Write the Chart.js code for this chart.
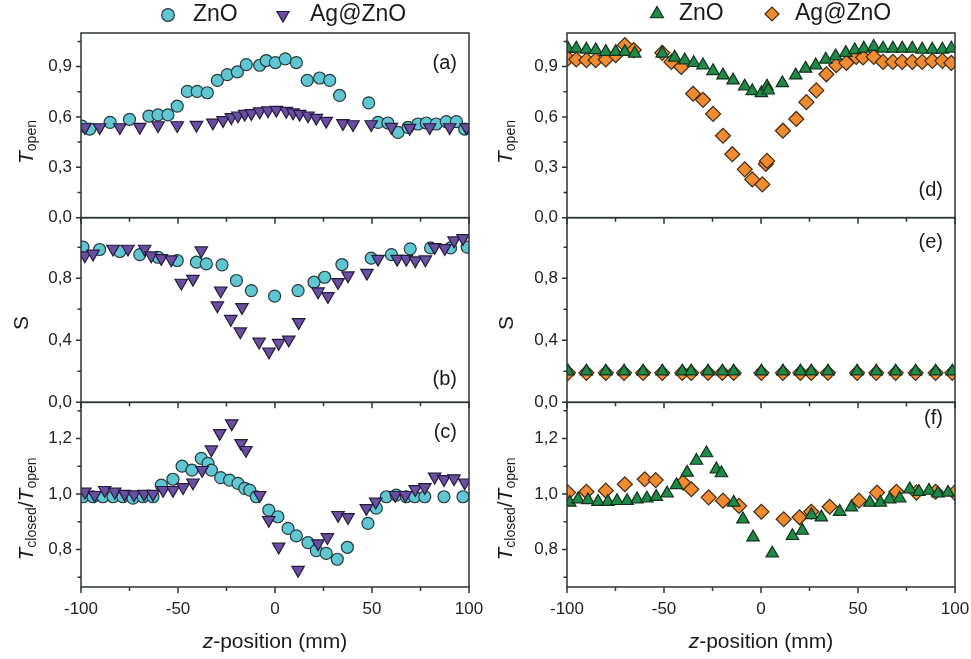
<!DOCTYPE html>
<html>
<head>
<meta charset="utf-8">
<script src="https://cdn.jsdelivr.net/npm/chart.js@4.4.0/dist/chart.umd.min.js"></script>
<style>
    body { margin: 0; background: #fff; font-family: "Liberation Sans", Arial, sans-serif; color: #1a1a1a; }
    #wrap { position: relative; width: 971px; height: 659px; overflow: hidden; }
    canvas { position: absolute; top: 0; }
    .ttl { position: absolute; white-space: nowrap; font-size: 21px; line-height: 1; transform: translate(-50%, -50%) rotate(-90deg); }
    .ttl .sub { font-size: 14px; position: relative; top: 3px; }
    .xt { position: absolute; white-space: nowrap; font-size: 21px; line-height: 1; transform: translate(-50%, -50%); }
</style>
</head>
<body>
<div id="wrap">
    <canvas id="colIzq" width="485" height="659" style="left:0"></canvas>
    <canvas id="colDer" width="486" height="659" style="left:485px"></canvas>

    <div class="ttl" style="left:25px;top:142px"><i>T</i><span class="sub">open</span></div>
    <div class="ttl" style="left:20px;top:323px">S</div>
    <div class="ttl" style="left:25px;top:509px"><i>T</i><span class="sub">closed</span>/<i>T</i><span class="sub">open</span></div>

    <div class="ttl" style="left:504px;top:142px"><i>T</i><span class="sub">open</span></div>
    <div class="ttl" style="left:505px;top:323px">S</div>
    <div class="ttl" style="left:504px;top:509px"><i>T</i><span class="sub">closed</span>/<i>T</i><span class="sub">open</span></div>

    <div class="xt" style="left:275px;top:640px"><i>z</i>-position (mm)</div>
    <div class="xt" style="left:761px;top:640px"><i>z</i>-position (mm)</div>
</div>

<script>
// Ticks de los ejes
const xTicks = [-100, -50, 0, 50, 100];
const xMinor = [-75, -25, 25, 75];
const openTicks = [0, 0.3, 0.6, 0.9];
const openMinor = [0.15, 0.45, 0.75, 1.05];
const sTicks = [0, 0.4, 0.8];
const sMinor = [0.2, 0.6, 1.0];
const ratioTicks = [0.8, 1.0, 1.2];
const ratioMinor = [0.7, 0.9, 1.1, 1.3];

// (a) T_open
const znoA = [[-99.5,0.545],[-95.5,0.528],[-85,0.568],[-75,0.585],[-65,0.605],[-60.3,0.612],[-55.2,0.612],[-50.4,0.664],[-45.2,0.752],[-40.1,0.752],[-34.9,0.744],[-29.7,0.818],[-24.6,0.852],[-19.4,0.868],[-14.8,0.912],[-7.9,0.908],[-4.5,0.936],[0.2,0.924],[5.3,0.946],[11,0.924],[16.6,0.818],[23,0.832],[28.2,0.818],[33.3,0.728],[48.3,0.684],[53.1,0.568],[58.2,0.564],[63.4,0.508],[68.6,0.538],[73.7,0.558],[78,0.564],[83.1,0.558],[88.3,0.572],[93.5,0.572],[97.8,0.528]];
const agA = [[-98,0.538],[-90.4,0.538],[-80,0.538],[-69.7,0.54],[-60.3,0.55],[-50.4,0.55],[-40.5,0.552],[-32,0.566],[-26.8,0.58],[-22.5,0.598],[-19.1,0.608],[-15.6,0.618],[-12.2,0.622],[-7.9,0.632],[-3.6,0.638],[0.7,0.642],[5.8,0.635],[9.3,0.626],[12.7,0.618],[17,0.608],[21.3,0.594],[26.4,0.576],[35,0.562],[40.2,0.556],[49.6,0.556],[60,0.54],[69.4,0.534],[79.7,0.538],[90,0.538],[98.6,0.538]];

// (b) S
const znoB = [[-99,1.0],[-90.4,0.985],[-80,0.972],[-69.7,0.952],[-60.3,0.935],[-50.4,0.914],[-40.5,0.903],[-35.4,0.892],[-27.3,0.886],[-19.9,0.785],[-12.2,0.72],[-0.2,0.684],[11.9,0.72],[20.1,0.774],[25.6,0.806],[34.5,0.888],[49.6,0.929],[60,0.952],[69.7,0.989],[80.2,0.995],[90.5,0.995],[99.1,1.0]];
const agB = [[-98,0.946],[-93.8,0.957],[-83.5,0.989],[-75.8,0.989],[-67.2,0.989],[-63.8,0.946],[-58.6,0.929],[-53.5,0.92],[-48.3,0.77],[-42.3,0.795],[-38,0.978],[-29.7,0.624],[-28,0.72],[-22.8,0.537],[-17.9,0.456],[-17,0.613],[-8.2,0.39],[-3.1,0.327],[1.9,0.382],[7.1,0.404],[12.2,0.516],[22.2,0.714],[27.3,0.684],[32.5,0.774],[37.6,0.817],[47.4,0.834],[53.1,0.924],[63,0.924],[67.7,0.924],[72.3,0.914],[77.5,0.92],[82.3,1.0],[87.5,0.993],[92.3,1.043],[96.9,1.058]];

// (c) T_closed / T_open
const znoC = [[-99,0.99],[-93.8,0.99],[-88.7,0.99],[-83.5,0.99],[-78.4,0.99],[-73.2,0.985],[-68,0.99],[-62.9,0.99],[-58.6,1.032],[-52.6,1.053],[-47.9,1.1],[-42.8,1.086],[-38,1.128],[-34.5,1.11],[-32.8,1.086],[-28,1.059],[-23.4,1.05],[-19.1,1.038],[-15.6,1.02],[-13,1.014],[-9.6,0.99],[-3.2,0.942],[1.5,0.918],[6.7,0.876],[11,0.849],[17,0.825],[21.3,0.796],[26.4,0.786],[32.1,0.765],[37.3,0.808],[47.9,0.894],[52.2,0.949],[57.4,0.99],[62.5,0.996],[67.7,0.99],[72,0.99],[77.2,0.99],[87.1,0.99],[96.9,0.99]];
const agC = [[-98,1.008],[-93,0.996],[-87.8,1.014],[-82.6,1.008],[-77.5,1.0],[-72.7,0.998],[-67.5,1.0],[-62.9,1.0],[-57.7,1.014],[-52.6,1.014],[-47.4,1.024],[-42.3,1.041],[-37.6,1.086],[-32.8,1.16],[-28.5,1.219],[-22.3,1.254],[-17.5,1.183],[-15,1.158],[-7.9,0.996],[-3.2,0.906],[1.9,0.81],[11.9,0.726],[22.2,0.822],[27,0.844],[32.5,0.924],[37.6,0.916],[47.1,0.949],[51.9,0.972],[62,0.996],[67.2,0.996],[72.3,1.017],[77.2,1.024],[82.3,1.062],[87.1,1.053],[92.3,1.056],[97.8,1.041]];

// (d) T_open
const znoD = [[-99.5,1.008],[-95.2,1.008],[-90,1.002],[-85.2,0.998],[-80,0.988],[-74.9,0.988],[-70.2,0.988],[-65.1,0.978],[-50.9,0.978],[-44.5,0.954],[-39.3,0.938],[-34.7,0.922],[-29.9,0.908],[-24.7,0.874],[-19.6,0.848],[-14.4,0.818],[-8.4,0.782],[-4.5,0.754],[0.2,0.742],[3.1,0.782],[3.7,0.758],[11,0.802],[17.9,0.848],[23,0.888],[28.2,0.908],[33.4,0.942],[38.5,0.962],[43.7,0.982],[48.3,0.998],[53,1.008],[58.1,1.018],[62.9,1.008],[68,1.008],[72.8,1.008],[78,1.008],[83.1,1.002],[88.3,1.002],[93.5,1.002],[98.1,1.008]];
const agD = [[-99.5,0.948],[-95.2,0.942],[-90,0.938],[-85.2,0.938],[-80,0.942],[-74.9,0.968],[-70.2,1.028],[-65.6,0.998],[-50.9,0.982],[-46.2,0.928],[-41.1,0.898],[-35,0.738],[-29.9,0.702],[-24.7,0.618],[-19.6,0.488],[-14.8,0.378],[-8.4,0.288],[-4.5,0.228],[0.7,0.198],[2.5,0.32],[3.1,0.338],[11.3,0.518],[18.2,0.588],[23.4,0.688],[28.5,0.758],[33.7,0.854],[38.8,0.908],[44,0.922],[49.1,0.958],[52.6,0.954],[58.1,0.958],[62.9,0.928],[68,0.928],[72.8,0.928],[78,0.928],[83.1,0.928],[88.3,0.934],[93.5,0.934],[98.1,0.922]];

// (e) S
const znoE = [[-99.5,0.2],[-90,0.2],[-80,0.2],[-70.6,0.2],[-60.8,0.2],[-50.9,0.2],[-40.6,0.2],[-36,0.2],[-27.3,0.2],[-19.9,0.2],[-14.1,0.2],[0.2,0.2],[11.3,0.2],[20.3,0.2],[25.9,0.2],[34.5,0.2],[49.5,0.2],[59.4,0.2],[69.4,0.2],[79.7,0.2],[90,0.2],[98.6,0.2]];
const agE = [[-99.5,0.19],[-90,0.19],[-80,0.19],[-70.6,0.19],[-60.8,0.19],[-50.9,0.19],[-40.6,0.19],[-36,0.19],[-27.3,0.19],[-19.9,0.19],[-14.1,0.19],[0.2,0.19],[11.3,0.19],[20.3,0.19],[25.9,0.19],[34.5,0.19],[49.5,0.19],[59.4,0.19],[69.4,0.19],[79.7,0.19],[90,0.19],[98.6,0.19]];

// (f) T_closed / T_open
const znoF = [[-98.6,0.969],[-94.3,0.981],[-89.2,0.978],[-84,0.972],[-78.9,0.972],[-74.2,0.975],[-69,0.975],[-63.9,0.981],[-58.8,0.984],[-54,0.99],[-48.4,1.002],[-43.6,1.032],[-38.1,1.077],[-33.3,1.12],[-28.1,1.147],[-23,1.089],[-20.4,1.075],[-14.1,0.969],[-9.3,0.909],[-4.1,0.844],[5.8,0.786],[16.2,0.849],[21.3,0.868],[26,0.924],[31.1,0.916],[40.6,0.936],[46.6,0.952],[56.1,0.969],[61.5,0.969],[66.3,0.981],[71.5,0.984],[76.7,1.017],[81.4,1.008],[86.6,1.012],[91.2,1.002],[96.4,1.005]];
const agF = [[-99.5,1.005],[-90,1.008],[-80,1.012],[-70.2,1.035],[-59.9,1.053],[-54.3,1.05],[-40.2,1.041],[-35.9,1.017],[-27,0.988],[-19.6,0.976],[-11.3,0.957],[0.2,0.936],[11.7,0.909],[19.9,0.916],[25.9,0.936],[35.4,0.954],[50.5,0.976],[59.8,1.005],[69.8,1.008],[80.1,1.005],[90,1.008],[99.8,1.005]];

// Estilos de las series
const estiloCirculo = { pointStyle: 'circle', pointRadius: 6, pointRotation: 0, backgroundColor: '#5ec7d2', borderColor: '#26393c' };
const estiloTriBajo = { pointStyle: 'triangle', pointRadius: 7.2, pointRotation: 180, backgroundColor: '#6a4ea0', borderColor: '#241a3c' };
const estiloTriAlto = { pointStyle: 'triangle', pointRadius: 7.2, pointRotation: 0, backgroundColor: '#1f8a48', borderColor: '#10301c' };
const estiloRombo = { pointStyle: 'rectRot', pointRadius: 7.5, pointRotation: 0, backgroundColor: '#f28b2f', borderColor: '#3f2a14' };

const FUENTE = '"Liberation Sans", Arial, sans-serif';
Chart.defaults.font.family = FUENTE;
Chart.defaults.animation = false;

function formatoComa(v) {
    return v.toFixed(1).replace('.', ',');
}

function serie(nombre, puntos, estilo, eje, orden) {
    return Object.assign({
        label: nombre,
        data: puntos.map(p => ({ x: p[0], y: p[1] })),
        yAxisID: eje,
        order: orden,
        borderWidth: 1.2,
        clip: 0,
        showLine: false
    }, estilo);
}

function ejeY(min, max, ticks, anchoEje) {
    return {
        type: 'linear',
        position: 'left',
        stack: 'columna',
        stackWeight: 1,
        min: min,
        max: max,
        afterBuildTicks: s => { s.ticks = ticks.map(v => ({ value: v })); },
        afterFit: s => { s.width = anchoEje; },
        grid: { display: false, drawTicks: false },
        border: { display: false },
        ticks: { padding: 9, autoSkip: false, color: '#222', font: { size: 17 }, callback: v => formatoComa(v) }
    };
}

// Marcadores de la leyenda dibujados a mano
function dibujarMarcador(ctx, forma, x, y, r, fondo, borde) {
    ctx.beginPath();
    if (forma === 'circulo') {
        ctx.arc(x, y, r, 0, Math.PI * 2);
    } else if (forma === 'triArriba') {
        ctx.moveTo(x, y - r);
        ctx.lineTo(x + r * 0.866, y + r / 2);
        ctx.lineTo(x - r * 0.866, y + r / 2);
        ctx.closePath();
    } else if (forma === 'triAbajo') {
        ctx.moveTo(x, y + r);
        ctx.lineTo(x + r * 0.866, y - r / 2);
        ctx.lineTo(x - r * 0.866, y - r / 2);
        ctx.closePath();
    } else {
        ctx.moveTo(x - r, y);
        ctx.lineTo(x, y - r);
        ctx.lineTo(x + r, y);
        ctx.lineTo(x, y + r);
        ctx.closePath();
    }
    ctx.fillStyle = fondo;
    ctx.fill();
    ctx.lineWidth = 1.2;
    ctx.strokeStyle = borde;
    ctx.stroke();
}

// Marcos, ticks, letras de panel y leyenda
const pluginPaneles = {
    id: 'paneles',
    afterDraw(chart) {
        const cfg = chart.options.plugins.paneles;
        const ctx = chart.ctx;
        const ex = chart.scales.x;
        ctx.save();
        ctx.strokeStyle = '#2c3335';
        ctx.lineWidth = 1.5;

        cfg.paneles.forEach(p => {
            const ey = chart.scales[p.eje];
            ctx.strokeRect(ex.left, ey.top, ex.right - ex.left, ey.bottom - ey.top);

            ctx.beginPath();
            xTicks.forEach(v => {
                const px = ex.getPixelForValue(v);
                ctx.moveTo(px, ey.bottom);
                ctx.lineTo(px, ey.bottom + 6);
            });
            xMinor.forEach(v => {
                const px = ex.getPixelForValue(v);
                ctx.moveTo(px, ey.bottom);
                ctx.lineTo(px, ey.bottom + 4);
            });
            p.ticks.forEach(v => {
                const py = ey.getPixelForValue(v);
                ctx.moveTo(ex.left - 5, py);
                ctx.lineTo(ex.left, py);
            });
            p.menores.forEach(v => {
                const py = ey.getPixelForValue(v);
                ctx.moveTo(ex.left - 3.5, py);
                ctx.lineTo(ex.left, py);
            });
            ctx.stroke();

            ctx.fillStyle = '#1a1a1a';
            ctx.font = '20px ' + FUENTE;
            ctx.textAlign = 'right';
            ctx.textBaseline = 'middle';
            const ly = p.arriba ? ey.top + p.dy : ey.bottom + p.dy;
            ctx.fillText(p.letra, ex.right - 12, ly);
        });

        cfg.leyenda.forEach(item => {
            dibujarMarcador(ctx, item.forma, item.mx, item.y, item.r, item.fondo, item.borde);
            ctx.fillStyle = '#1a1a1a';
            ctx.font = '23px ' + FUENTE;
            ctx.textAlign = 'left';
            ctx.textBaseline = 'middle';
            ctx.fillText(item.texto, item.tx, item.y);
        });
        ctx.restore();
    }
};

function crearColumna(idCanvas, series, anchoEje, paneles, leyenda) {
    const ctx = document.getElementById(idCanvas).getContext('2d');
    return new Chart(ctx, {
        type: 'scatter',
        data: { datasets: series },
        options: {
            responsive: false,
            layout: { padding: { top: 33, right: 16, bottom: 0, left: 0 } },
            plugins: {
                legend: { display: false },
                tooltip: { enabled: false },
                paneles: { paneles: paneles, leyenda: leyenda }
            },
            scales: {
                x: {
                    type: 'linear',
                    position: 'bottom',
                    min: -100,
                    max: 100,
                    afterBuildTicks: s => { s.ticks = xTicks.map(v => ({ value: v })); },
                    afterFit: s => { s.height = 72; s.paddingLeft = 0; s.paddingRight = 0; },
                    grid: { display: false, drawTicks: false },
                    border: { display: false },
                    ticks: { padding: 12, autoSkip: false, maxRotation: 0, color: '#222', font: { size: 17 }, callback: v => String(v) }
                },
                yc: ejeY(0.665, 1.33, ratioTicks, anchoEje),
                yb: ejeY(0, 1.19, sTicks, anchoEje),
                ya: ejeY(0, 1.1, openTicks, anchoEje)
            }
        },
        plugins: [pluginPaneles]
    });
}

// Columna izquierda: ZnO (círculos) y Ag@ZnO (triángulos)
crearColumna('colIzq', [
    serie('ZnO', znoA, estiloCirculo, 'ya', 2),
    serie('Ag@ZnO', agA, estiloTriBajo, 'ya', 1),
    serie('ZnO', znoB, estiloCirculo, 'yb', 2),
    serie('Ag@ZnO', agB, estiloTriBajo, 'yb', 1),
    serie('ZnO', znoC, estiloCirculo, 'yc', 2),
    serie('Ag@ZnO', agC, estiloTriBajo, 'yc', 1)
], 81, [
    { eje: 'ya', letra: '(a)', arriba: true, dy: 30, ticks: openTicks, menores: openMinor },
    { eje: 'yb', letra: '(b)', arriba: false, dy: -23, ticks: sTicks, menores: sMinor },
    { eje: 'yc', letra: '(c)', arriba: true, dy: 30, ticks: ratioTicks, menores: ratioMinor }
], [
    { forma: 'circulo', mx: 168, tx: 193, y: 15, r: 6.3, texto: 'ZnO', fondo: estiloCirculo.backgroundColor, borde: estiloCirculo.borderColor },
    { forma: 'triAbajo', mx: 283, tx: 310, y: 15, r: 7, texto: 'Ag@ZnO', fondo: estiloTriBajo.backgroundColor, borde: estiloTriBajo.borderColor }
]);

// Columna derecha: ZnO (triángulos) y Ag@ZnO (rombos)
crearColumna('colDer', [
    serie('ZnO', znoD, estiloTriAlto, 'ya', 1),
    serie('Ag@ZnO', agD, estiloRombo, 'ya', 2),
    serie('ZnO', znoE, estiloTriAlto, 'yb', 1),
    serie('Ag@ZnO', agE, estiloRombo, 'yb', 2),
    serie('ZnO', znoF, estiloTriAlto, 'yc', 1),
    serie('Ag@ZnO', agF, estiloRombo, 'yc', 2)
], 82, [
    { eje: 'ya', letra: '(d)', arriba: false, dy: -27, ticks: openTicks, menores: openMinor },
    { eje: 'yb', letra: '(e)', arriba: true, dy: 25, ticks: sTicks, menores: sMinor },
    { eje: 'yc', letra: '(f)', arriba: true, dy: 16, ticks: ratioTicks, menores: ratioMinor }
], [
    { forma: 'triArriba', mx: 172, tx: 194, y: 14, r: 7.5, texto: 'ZnO', fondo: estiloTriAlto.backgroundColor, borde: estiloTriAlto.borderColor },
    { forma: 'rombo', mx: 287, tx: 310, y: 14, r: 7, texto: 'Ag@ZnO', fondo: estiloRombo.backgroundColor, borde: estiloRombo.borderColor }
]);
</script>
</body>
</html>
